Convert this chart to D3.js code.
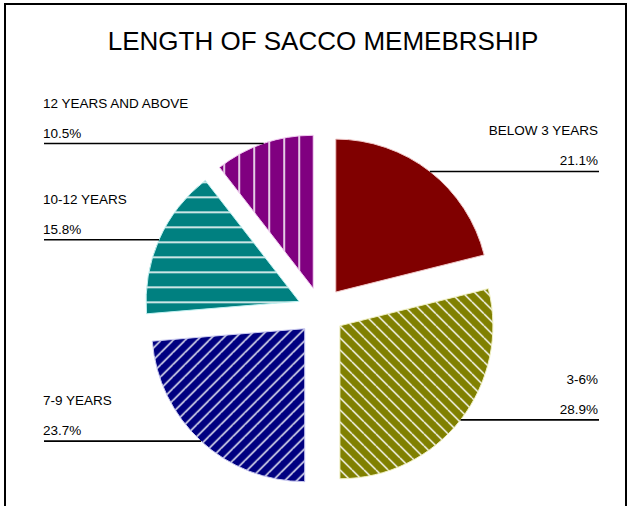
<!DOCTYPE html>
<html>
<head>
<meta charset="utf-8">
<script src="https://cdn.jsdelivr.net/npm/d3@7"></script>
<style>
  html, body { margin: 0; padding: 0; background: #fff; }
  svg { display: block; }
  text { font-family: "Liberation Sans", Arial, sans-serif; fill: #000; }
</style>
</head>
<body>
<svg id="chart" width="631" height="506"></svg>
<script>
// Membership length groups and their shares (%)
const categories = ["BELOW 3 YEARS", "3-6%", "7-9 YEARS", "10-12 YEARS", "12 YEARS AND ABOVE"];
const values = [21.1, 28.9, 23.7, 15.8, 10.5];
const valueLabels = ["21.1%", "28.9%", "23.7%", "15.8%", "10.5%"];
const fills = ["#800000", "#808000", "#000080", "#008080", "#800080"];
const edges = ["#f0c8c8", "#f0f0c0", "#c8c8f0", "#c0f0f0", "#f0c8f0"];
const hatch = ["none", "diagBack", "diagFwd", "horiz", "vert"];

const W = 631, H = 506;
const cx = 321, cy = 311, R = 153, explode = 24;

const svg = d3.select("#chart");

// frame
svg.append("rect")
  .attr("x", 5).attr("y", 4)
  .attr("width", 621).attr("height", 520)
  .attr("fill", "none").attr("stroke", "#000").attr("stroke-width", 2);

// title
svg.append("text")
  .attr("x", 323).attr("y", 50)
  .attr("text-anchor", "middle")
  .style("font-size", "26px")
  .text("LENGTH OF SACCO MEMEBRSHIP");

// hatch patterns
const defs = svg.append("defs");
function makePattern(id, color, kind) {
  const p = defs.append("pattern")
    .attr("id", id)
    .attr("patternUnits", "userSpaceOnUse");
  if (kind === "horiz") {
    p.attr("width", 15).attr("height", 15);
    p.append("rect").attr("width", 15).attr("height", 15).attr("fill", color);
    p.append("line").attr("x1", 0).attr("x2", 15).attr("y1", 1).attr("y2", 1)
      .attr("stroke", "#fff").attr("stroke-width", 1.6);
  } else if (kind === "vert") {
    p.attr("width", 15).attr("height", 15);
    p.append("rect").attr("width", 15).attr("height", 15).attr("fill", color);
    p.append("line").attr("y1", 0).attr("y2", 15).attr("x1", 1).attr("x2", 1)
      .attr("stroke", "#fff").attr("stroke-width", 1.6);
  } else {
    const s = 12;
    p.attr("width", s).attr("height", s);
    p.append("rect").attr("width", s).attr("height", s).attr("fill", color);
    const lines = kind === "diagBack"
      ? [[0, 0, s, s], [-s, 0, 0, s], [0, -s, s, 0]]
      : [[0, s, s, 0], [-s, s, 0, 0], [0, 2 * s, 2 * s, 0]];
    lines.forEach(l => p.append("line")
      .attr("x1", l[0]).attr("y1", l[1]).attr("x2", l[2]).attr("y2", l[3])
      .attr("stroke", "#fff").attr("stroke-width", 1.4));
  }
}
hatch.forEach((k, i) => { if (k !== "none") makePattern("hatch" + i, fills[i], k); });

const data = categories.map((c, i) => ({ name: c, value: values[i], label: valueLabels[i], i }));
const pie = d3.pie().value(d => d.value).sort(null).startAngle(0).endAngle(2 * Math.PI);
const arc = d3.arc().innerRadius(0).outerRadius(R);
const arcs = pie(data);

const g = svg.append("g").attr("transform", `translate(${cx},${cy})`);

arcs.forEach(a => {
  const mid = (a.startAngle + a.endAngle) / 2;
  a.dx = Math.sin(mid) * explode;
  a.dy = -Math.cos(mid) * explode;
  a.mid = mid;
});

g.selectAll("path.slice")
  .data(arcs)
  .join("path")
  .attr("class", "slice")
  .attr("transform", a => `translate(${a.dx},${a.dy})`)
  .attr("d", arc)
  .attr("fill", a => hatch[a.data.i] === "none" ? fills[a.data.i] : `url(#hatch${a.data.i})`)
  .attr("stroke", a => edges[a.data.i])
  .attr("stroke-width", 1);

// leader lines and labels
arcs.forEach(a => {
  const px = cx + a.dx + Math.sin(a.mid) * R;
  const py = cy + a.dy - Math.cos(a.mid) * R;
  const right = a.mid < Math.PI;
  const xEnd = right ? 599 : 44;
  svg.append("line")
    .attr("x1", px).attr("y1", py).attr("x2", xEnd).attr("y2", py)
    .attr("stroke", "#000").attr("stroke-width", 1.6);
  const tx = right ? 598 : 43;
  const anchor = right ? "end" : "start";
  svg.append("text")
    .attr("x", tx).attr("y", py - 36)
    .attr("text-anchor", anchor)
    .style("font-size", "13.5px")
    .text(a.data.name);
  svg.append("text")
    .attr("x", tx).attr("y", py - 6)
    .attr("text-anchor", anchor)
    .style("font-size", "13.5px")
    .text(a.data.label);
});
</script>
</body>
</html>
